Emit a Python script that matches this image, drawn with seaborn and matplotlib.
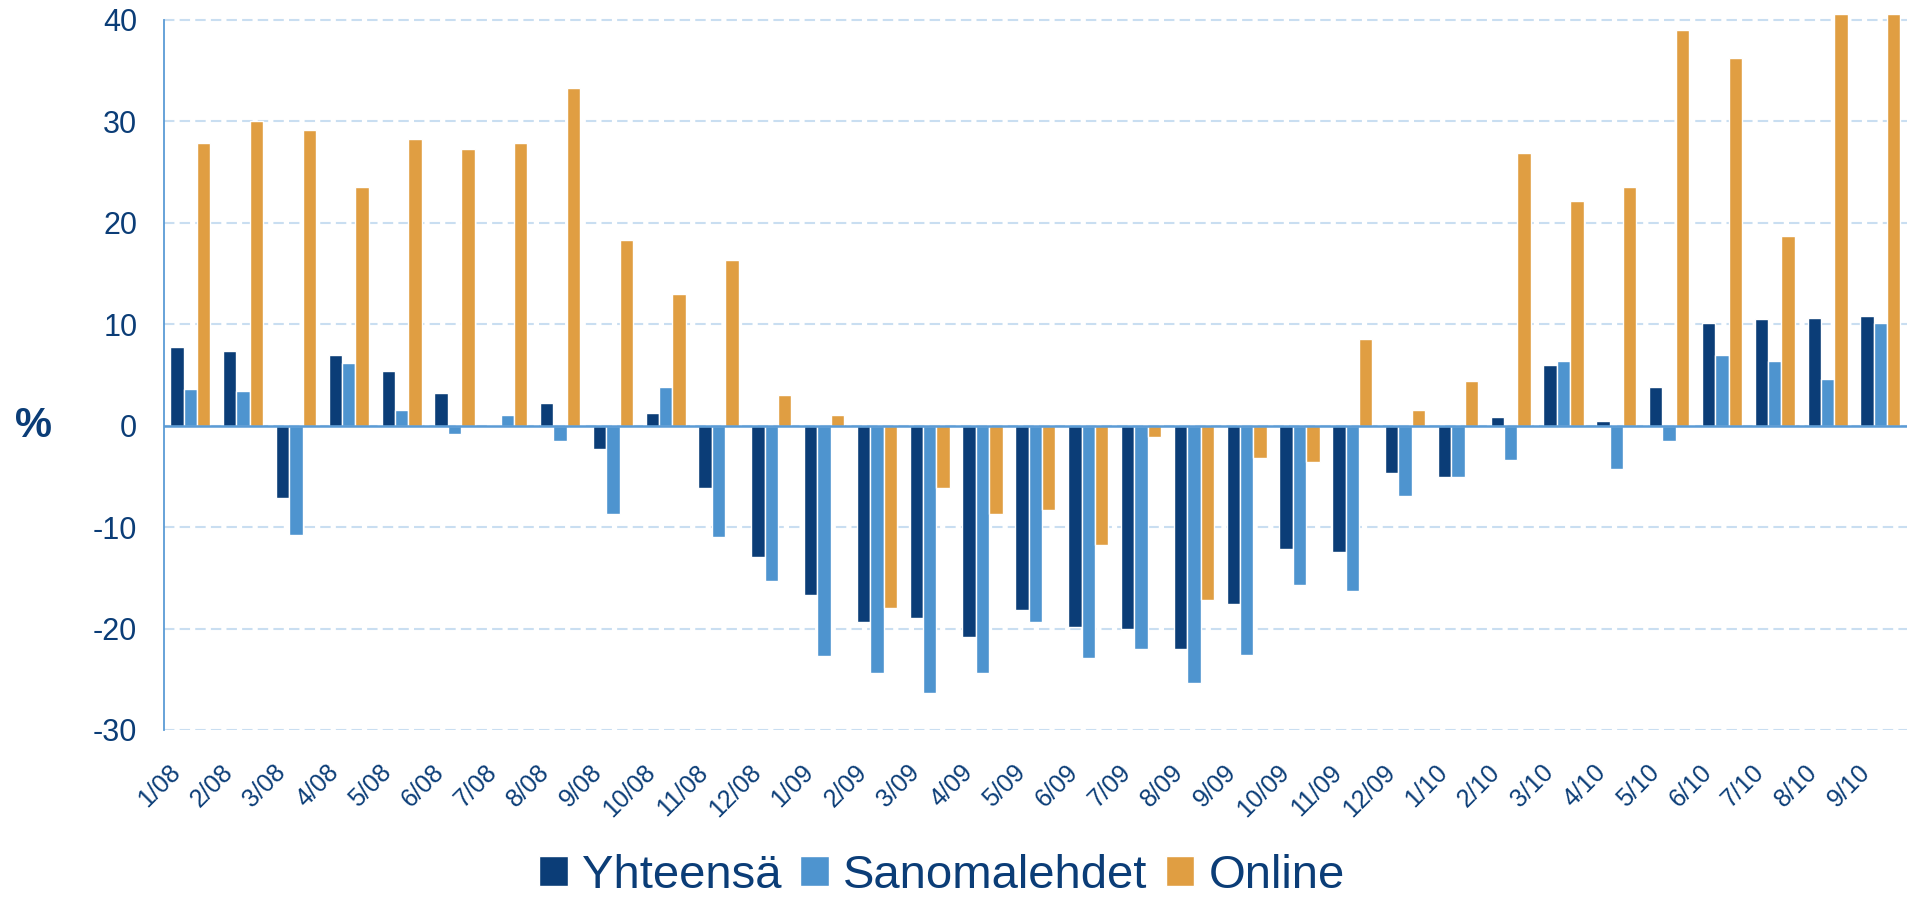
import pandas as pd
import seaborn as sns
import matplotlib.pyplot as plt
from matplotlib.ticker import MultipleLocator
from matplotlib.transforms import ScaledTranslation

# Monthly change in advertising, %
months = ["1/08", "2/08", "3/08", "4/08", "5/08", "6/08", "7/08", "8/08", "9/08",
          "10/08", "11/08", "12/08", "1/09", "2/09", "3/09", "4/09", "5/09", "6/09",
          "7/09", "8/09", "9/09", "10/09", "11/09", "12/09", "1/10", "2/10", "3/10",
          "4/10", "5/10", "6/10", "7/10", "8/10", "9/10"]
yhteensa = [7.8, 7.4, -7.1, 7.0, 5.4, 3.25, 0.1, 2.25, -2.3, 1.3, -6.1, -12.9,
            -16.65, -19.4, -19.0, -20.8, -18.2, -19.8, -20.0, -22.0, -17.6, -12.2,
            -12.5, -4.7, -5.1, 0.9, 6.0, 0.5, 3.85, 10.15, 10.55, 10.65, 10.85]
sanomalehdet = [3.65, 3.45, -10.8, 6.2, 1.5, -0.85, 1.1, -1.5, -8.7, 3.85, -11.0, -15.3,
                -22.75, -24.4, -26.4, -24.4, -19.4, -22.95, -22.0, -25.4, -22.6, -15.7,
                -16.25, -6.9, -5.1, -3.35, 6.4, -4.3, -1.5, 7.0, 6.4, 4.6, 10.15]
online = [27.9, 30.0, 29.2, 23.5, 28.3, 27.3, 27.9, 33.3, 18.3, 13.0, 16.35, 3.05,
          1.1, -18.0, -6.1, -8.7, -8.3, -11.8, -1.1, -17.2, -3.15, -3.55,
          8.55, 1.5, 4.45, 26.9, 22.2, 23.5, 39.0, 36.25, 18.7, 40.6, 40.6]
series_names = ["Yhteensä", "Sanomalehdet", "Online"]
colors = ["#0b3d77", "#4e94cf", "#e09e42"]

navy = "#0b3d77"
axis_blue = "#5b9bd5"

# long format for seaborn
df = pd.DataFrame({
    "Kuukausi": months * 3,
    "Sarja": [s for s in series_names for _ in months],
    "Muutos": yhteensa + sanomalehdet + online,
})

sns.set_style("white")
plt.rcParams["font.family"] = ["Liberation Sans", "DejaVu Sans"]
plt.rcParams["axes.unicode_minus"] = False

fig = plt.figure(figsize=(19.11, 8.99), dpi=100)
ax = fig.add_axes([0.0858, 0.188, 0.912, 0.8067])

sns.barplot(data=df, x="Kuukausi", y="Muutos", hue="Sarja", hue_order=series_names,
            palette=colors, width=0.76, saturation=1, errorbar=None, ax=ax, zorder=2)

ax.set_xlim(-0.5, len(months) - 0.5)
ax.set_ylim(-30, 41.5)

# gridlines and axis styling
ax.yaxis.set_major_locator(MultipleLocator(10))
ax.yaxis.set_minor_locator(MultipleLocator(2))
ax.yaxis.grid(True, which="major", color="#c9def1", linestyle=(0, (5, 2.5)), linewidth=1.5)
ax.set_axisbelow(True)
ax.axhline(0, color=axis_blue, linewidth=1.8, zorder=3)

for side in ["top", "right", "bottom"]:
    ax.spines[side].set_visible(False)
ax.spines["left"].set_bounds(-30, 40)
ax.spines["left"].set_color(axis_blue)
ax.spines["left"].set_linewidth(1.3)

ax.tick_params(axis="y", which="both", direction="out", color=axis_blue,
               length=7.2, width=1.2, labelsize=22, labelcolor=navy, pad=12)
ax.tick_params(axis="x", length=0, pad=28, labelsize=18, labelcolor=navy)
shift = ScaledTranslation(-0.14, 0, fig.dpi_scale_trans)
for lbl in ax.get_xticklabels():
    lbl.set_rotation(45)
    lbl.set_ha("right")
    lbl.set_va("center")
    lbl.set_rotation_mode("anchor")
    lbl.set_transform(lbl.get_transform() + shift)

ax.set_xlabel("")
ax.set_ylabel("%", rotation=0, fontsize=30, fontweight="bold", color=navy,
              ha="center", va="center")
ax.yaxis.set_label_coords(-0.075, 30 / 71.5)

# legend at the bottom centre of the figure
handles, labels = ax.get_legend_handles_labels()
ax.get_legend().remove()
fig.legend(handles, labels, loc="center", bbox_to_anchor=(0.493, 0.026), ncol=3,
           frameon=False, fontsize=34, labelcolor=navy, handlelength=0.6,
           handleheight=0.6, handletextpad=0.3, columnspacing=0.4)

fig.savefig("out.png", dpi=100)
plt.close()
